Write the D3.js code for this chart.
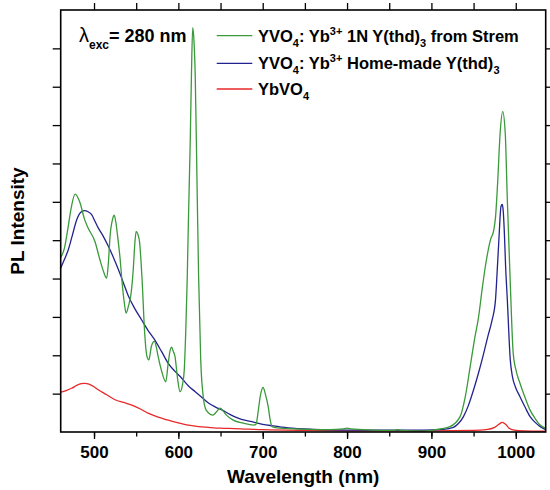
<!DOCTYPE html>
<html>
<head>
<meta charset="utf-8">
<script src="https://cdn.jsdelivr.net/npm/d3@7"></script>
<style>
  body { margin: 0; background: #fff; }
  svg text { font-family: Arial, "Liberation Sans", sans-serif; font-weight: bold; fill: #000; }
</style>
</head>
<body>
<svg width="550" height="490"></svg>
<script>
// wavelength (nm) / intensity (a.u.)
var stremNm = [460,465,469,473,477.5,483,489,493,501,507,511,515,517,519,522,524,526,528,531,533,536,538,541,544,546.5,548.5,550,552,554,557,560,562.5,565,568,571.5,574,576,580,585,588,590,592,594,596,599,602,605,607,609,610.5,612,614,615.5,617,618.5,620,622,624,626.5,629.5,632,636,641,645,649.5,653,657,665,677,689,692,695,697,700.5,703,706.5,709,711,720,750,780,795,800,805,830,855,860,865,887,905,922,934,940,946,951,956,960,964,970,974,976,978.5,981.5,984.5,987.5,990,993.5,997,1001,1005,1011,1017,1023,1029,1035];
var stremVal = [4.53,4.80,5.3,5.85,6.2,6.0,5.53,5.32,4.97,4.49,4.2,4.01,4.4,5.1,5.55,5.65,5.45,5.1,4.5,3.97,3.35,3.1,3.3,3.62,4.23,4.95,5.23,5.15,4.95,3.97,2.6,2.0,1.88,2.23,2.36,2.2,1.97,1.6,1.31,1.8,2.1,2.21,2.1,1.97,1.4,1.05,1.25,1.62,2.8,4.0,5.6,7.5,9.3,10.54,10.2,9.28,6.67,4.05,1.88,0.92,0.62,0.49,0.44,0.52,0.62,0.55,0.44,0.31,0.23,0.18,0.2,0.6,0.92,1.16,1.0,0.66,0.3,0.14,0.1,0.07,0.06,0.08,0.1,0.08,0.05,0.04,0.06,0.04,0.02,0.06,0.14,0.40,0.9,1.71,2.4,3.01,3.7,4.32,5.01,5.27,5.6,6.49,7.8,8.35,7.8,6.06,3.88,2.05,1.55,1.27,0.9,0.57,0.35,0.18,0.10];

var homeNm = [460,465,469.5,474,479.5,484,488.5,493,497,501,505,511,517,523,529,535,541,548,556.5,564,572,580,588,596,604,612,620,628,636,644,652,661,670,680,689,700,712,730,760,800,850,890,914,926,932,938,944,950,956,962,967,972,976,978,980,982.5,984,985,986.5,988,990,993.5,996,999.5,1005,1011,1017,1023,1029,1035];
var homeVal = [4.25,4.5,4.75,5.1,5.53,5.72,5.77,5.74,5.67,5.5,5.32,5.1,4.84,4.55,4.23,3.88,3.53,3.23,2.92,2.65,2.40,2.1,1.79,1.58,1.40,1.2,1.05,0.9,0.75,0.65,0.57,0.46,0.37,0.3,0.26,0.2,0.16,0.11,0.07,0.05,0.05,0.05,0.07,0.12,0.22,0.40,0.7,1.10,1.55,2.05,2.5,2.92,3.45,4.2,5.01,5.88,5.93,5.8,5.19,4.3,3.45,1.88,1.45,1.18,0.92,0.65,0.40,0.25,0.14,0.07];

var ybNm = [460,467,473.5,480,485,489,494,500,505,515,525,535,545,555,564,576,588,600,612,624,636,650,667,700,750,800,850,900,950,965,975,980,984,988,992,998,1010,1035];
var ybVal = [1.03,1.08,1.14,1.22,1.26,1.27,1.25,1.18,1.10,0.97,0.84,0.77,0.70,0.6,0.49,0.39,0.31,0.24,0.18,0.14,0.12,0.1,0.09,0.06,0.04,0.03,0.03,0.03,0.04,0.06,0.12,0.2,0.25,0.2,0.1,0.05,0.03,0.02];

var xTicks = [500,600,700,800,900,1000];
var yTicks = [1,2,3,4,5,6,7,8,9,10];

var svg = d3.select('svg');
var mLeft = 60.7, mRight = 545.7, mTop = 10, mBottom = 432;

var x = d3.scaleLinear().domain([460.5, 1035.5]).range([mLeft, mRight]);
var y = d3.scaleLinear().domain([0, 11]).range([mBottom, mTop]);

var series = [
  { nm: stremNm, val: stremVal, color: '#3a9a3a' },
  { nm: homeNm, val: homeVal, color: '#23238e' },
  { nm: ybNm, val: ybVal, color: '#e8282a' }
];

var line = d3.line()
  .x(function (d) { return x(d[0]); })
  .y(function (d) { return y(d[1]); })
  .curve(d3.curveMonotoneX);

var plot = svg.append('g');
// red first, then blue, green on top
series.slice().reverse().forEach(function (s) {
  plot.append('path')
    .datum(d3.zip(s.nm, s.val))
    .attr('d', line)
    .attr('fill', 'none')
    .attr('stroke', s.color)
    .attr('stroke-width', 1.3);
});

// axes
var minor = d3.range(500, 1001, 50);
svg.append('g').attr('transform', 'translate(0,' + mBottom + ')')
  .call(d3.axisBottom(x).tickValues(minor).tickSize(4.5).tickFormat(''));
svg.append('g').attr('transform', 'translate(0,' + mBottom + ')')
  .call(d3.axisBottom(x).tickValues(xTicks).tickSize(7).tickPadding(7).tickFormat(d3.format('d')))
  .call(function (g) {
    g.selectAll('text').attr('font-size', 17).attr('font-family', null);
  });
svg.append('g').attr('transform', 'translate(0,' + mTop + ')')
  .call(d3.axisTop(x).tickValues(minor).tickSize(7).tickFormat(''));
svg.append('g').attr('transform', 'translate(' + mLeft + ',0)')
  .call(d3.axisLeft(y).tickValues(yTicks).tickSize(8).tickFormat(''));
svg.append('g').attr('transform', 'translate(' + mRight + ',0)')
  .call(d3.axisRight(y).tickValues(yTicks).tickSize(8).tickFormat(''));

svg.selectAll('.domain').remove();
svg.selectAll('.tick line').attr('stroke-width', 1.3);
svg.append('rect')
  .attr('x', mLeft).attr('y', mTop)
  .attr('width', mRight - mLeft).attr('height', mBottom - mTop)
  .attr('fill', 'none').attr('stroke', '#000').attr('stroke-width', 1.6);

// axis titles
svg.append('text')
  .attr('x', (mLeft + mRight) / 2).attr('y', 483)
  .attr('text-anchor', 'middle').attr('font-size', 19)
  .text('Wavelength (nm)');
svg.append('text')
  .attr('transform', 'translate(24,' + ((mTop + mBottom) / 2) + ') rotate(-90)')
  .attr('text-anchor', 'middle').attr('font-size', 19)
  .text('PL Intensity');

// rich text: parts are [text, shift] with shift 0 = normal, 1 = sub, -1 = sup
function rich(sel, parts, size) {
  var cur = 0;
  parts.forEach(function (p) {
    var shift = p[1] || 0;
    var target = shift === 1 ? 5 : shift === -1 ? -7 : 0;
    var ts = sel.append('tspan').attr('dy', target - cur).text(p[0]);
    if (shift) ts.attr('font-size', size);
    cur = target;
  });
}

// excitation label
var exc = svg.append('text').attr('x', 79).attr('y', 41.7).attr('font-size', 18);
exc.append('tspan').attr('font-weight', 'normal').attr('font-size', 20).text('λ');
exc.append('tspan').attr('font-size', 12).attr('dy', 7).text('exc');
exc.append('tspan').attr('dy', -7).text('= 280 nm');

// legend
var legendY = [35.7, 63.3, 89];
var legendText = [
  [['YVO'], ['4', 1], [': Yb'], ['3+', -1], [' 1N Y(thd)'], ['3', 1], [' from Strem']],
  [['YVO'], ['4', 1], [': Yb'], ['3+', -1], [' Home-made Y(thd)'], ['3', 1]],
  [['YbVO'], ['4', 1]]
];
var legend = svg.append('g');
series.forEach(function (s, i) {
  legend.append('line')
    .attr('x1', 216.7).attr('x2', 252.3)
    .attr('y1', legendY[i]).attr('y2', legendY[i])
    .attr('stroke', s.color).attr('stroke-width', 1.3);
  var t = legend.append('text').attr('x', 258).attr('y', legendY[i] + 6).attr('font-size', 16.5);
  rich(t, legendText[i], 11);
});
</script>
</body>
</html>
